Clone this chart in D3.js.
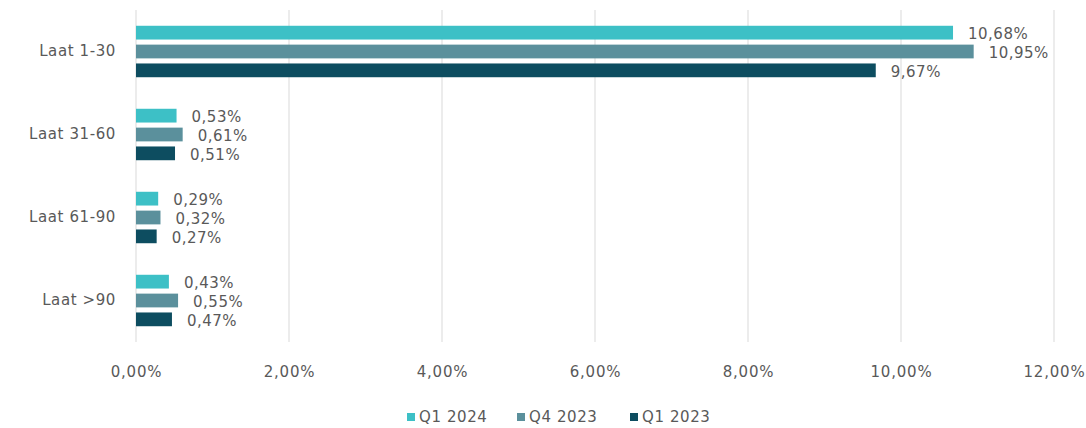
<!DOCTYPE html>
<html><head><meta charset="utf-8">
<script src="https://cdn.jsdelivr.net/npm/d3@7"></script>
<style>
html,body{margin:0;padding:0;background:#fff;}
text{font-family:"DejaVu Sans",sans-serif;fill:#595959;}
</style></head>
<body><svg id="c" width="1086" height="428"></svg>
<script>
const categories = ["Laat 1-30","Laat 31-60","Laat 61-90","Laat >90"];
const seriesNames = ["Q1 2024","Q4 2023","Q1 2023"];
const q1_2024 = [10.68,0.53,0.29,0.43];
const q4_2023 = [10.95,0.61,0.32,0.55];
const q1_2023 = [9.67,0.51,0.27,0.47];
const colors = ["#3dc0c6","#5b909c","#0d4d60"];
const xTicks = [0,2,4,6,8,10,12];

const seriesValues = [q1_2024,q4_2023,q1_2023];
const svg = d3.select("#c");
const fmt = v => d3.format(".2f")(v).replace(".", ",") + "%";
const FONT = "'DejaVu Sans',sans-serif";

const x = d3.scaleLinear().domain([0,12]).range([136,1054]);
const y = d3.scaleBand().domain(categories).range([10,342]).paddingInner(0.38).paddingOuter(0.19);
const yInner = d3.scaleBand().domain(seriesNames).range([0,y.bandwidth()]).paddingInner(0.27);

// gridlines
svg.append("g").selectAll("line").data(xTicks).join("line")
  .attr("x1",d=>x(d)).attr("x2",d=>x(d)).attr("y1",10).attr("y2",342)
  .attr("stroke","#d9d9d9").attr("stroke-width",1);

// x axis labels
const xAxis = d3.axisBottom(x).tickValues(xTicks).tickFormat(fmt).tickSize(0).tickPadding(0);
const gx = svg.append("g").attr("transform","translate(0,366)").call(xAxis);
gx.select(".domain").remove();
gx.selectAll("text").attr("font-size",15).attr("fill","#595959")
  .style("font-family",FONT).style("letter-spacing","0.8px");

// y axis labels
const yAxis = d3.axisLeft(y).tickSize(0).tickPadding(0);
const gy = svg.append("g").attr("transform","translate(116,0)").call(yAxis);
gy.select(".domain").remove();
gy.selectAll("text").attr("font-size",15).attr("fill","#595959")
  .style("font-family",FONT).style("letter-spacing","0.6px");

// bars
categories.forEach((cat,ci)=>{
  const g = svg.append("g").attr("transform",`translate(0,${y(cat)})`);
  seriesNames.forEach((s,si)=>{
    const v = seriesValues[si][ci];
    g.append("rect").attr("x",x(0)).attr("y",yInner(s))
      .attr("width",x(v)-x(0)).attr("height",yInner.bandwidth())
      .attr("fill",colors[si]);
    g.append("text").attr("x",x(v)+15).attr("y",yInner(s)+yInner.bandwidth()/2+1)
      .attr("dy","0.35em").attr("font-size",15).style("letter-spacing","0.5px").text(fmt(v));
  });
});

// legend
const legendX = [407,517,630];
const lg = svg.append("g").attr("transform","translate(0,417)");
seriesNames.forEach((s,i)=>{
  const it = lg.append("g").attr("transform",`translate(${legendX[i]},0)`);
  it.append("rect").attr("x",0).attr("y",-4).attr("width",8).attr("height",8).attr("fill",colors[i]);
  it.append("text").attr("x",12).attr("y",0).attr("dy","0.35em").attr("font-size",15)
    .style("letter-spacing","0.6px").text(s);
});
</script></body></html>
